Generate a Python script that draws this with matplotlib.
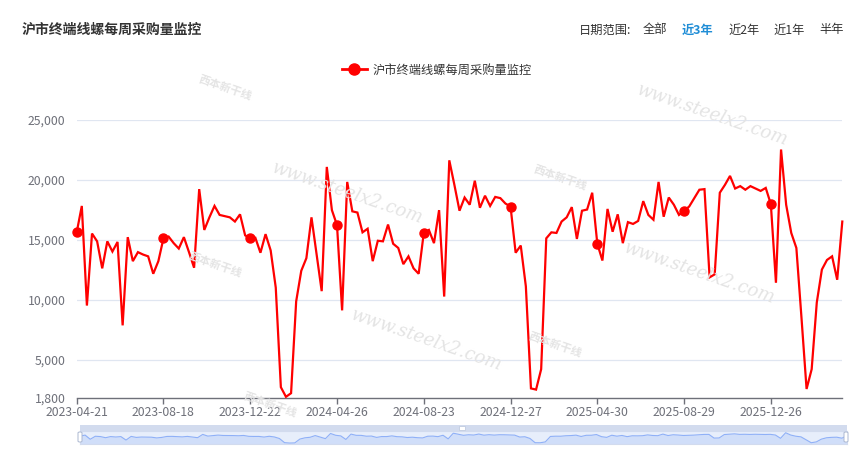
import matplotlib.pyplot as plt
import numpy as np
from matplotlib.patches import Rectangle, FancyBboxPatch
from matplotlib.lines import Line2D

plt.rcParams["font.family"] = ["Noto Sans CJK SC", "DejaVu Sans"]

title = "沪市终端线螺每周采购量监控"
series_name = "沪市终端线螺每周采购量监控"

# weekly purchase volume (151 weeks)
values = [
    15600, 17800, 9500, 15500, 14850, 12600, 14850, 14000, 14800, 7850,
    15200, 13200, 13950, 13750, 13600, 12150, 13200, 15100, 15250, 14700,
    14250, 15200, 13950, 12650, 19200, 15800, 16850, 17800, 17050, 16950,
    16850, 16500, 17100, 15350, 15100, 15150, 13900, 15450, 14100, 11000,
    2700, 1900, 2200, 9850, 12400, 13450, 16850, 13750, 10700, 21050,
    17450, 16200, 9100, 19800, 17350, 17250, 15600, 15900, 13200, 14900,
    14850, 16250, 14650, 14300, 12950, 13600, 12600, 12150, 15550, 15800,
    14700, 17450, 10250, 21600, 19550, 17400, 18500, 17900, 19900, 17650,
    18650, 17800, 18550, 18450, 18000, 17750, 13900, 14500, 11100, 2600,
    2500, 4200, 15100, 15600, 15550, 16500, 16850, 17700, 15050, 17400,
    17500, 18900, 14650, 13250, 17550, 15650, 17100, 14700, 16450, 16300,
    16550, 18200, 17050, 16650, 19800, 16900, 18500, 17900, 17050, 17400,
    17750, 18450, 19150, 19200, 11850, 12100, 18900, 19550, 20300, 19250,
    19450, 19150, 19450, 19250, 19050, 19300, 17950, 11400, 22500, 17900,
    15550, 14300, 8500, 2550, 4200, 9750, 12500, 13300, 13600, 11650,
    16500,
]
tick_labels = ["2023-04-21", "2023-08-18", "2023-12-22", "2024-04-26", "2024-08-23",
               "2024-12-27", "2025-04-30", "2025-08-29", "2025-12-26"]
y_ticks = [1800, 5000, 10000, 15000, 20000, 25000]
range_options = ["全部", "近3年", "近2年", "近1年", "半年"]

W, H = 856, 459
fig = plt.figure(figsize=(W / 100, H / 100), dpi=100)

def px(x0, y0, x1, y1):
    return [x0 / W, 1 - y1 / H, (x1 - x0) / W, (y1 - y0) / H]

axis_grey = "#6e7079"
red = "#ff0000"
step = 17
x = np.arange(len(values))

# faint watermarks (behind everything)
wm = "#e4e4e4"
for (wx, wy) in [(348, 193), (427, 340), (713, 115), (700, 273)]:
    fig.text(wx / W, 1 - wy / H, "www.steelx2.com", fontsize=13, color=wm, rotation=-19,
             ha="center", va="center", family="DejaVu Serif", style="italic", zorder=0)
for (wx, wy) in [(225, 88), (215, 265), (560, 178), (555, 345), (270, 405)]:
    fig.text(wx / W, 1 - wy / H, "西本新干线", fontsize=8, color=wm, rotation=-19,
             ha="center", va="center", fontweight="bold", zorder=0)

ax = fig.add_axes(px(76.7, 119.5, 842.3, 398))
ax.patch.set_alpha(0)
ax.plot(x, values, color=red, lw=1.6, marker="o", markevery=step, ms=6.5, zorder=3,
        solid_joinstyle="miter", clip_on=False)
ax.set_xlim(0, len(values) - 1)
ax.set_ylim(1800, 25000)
ax.set_yticks(y_ticks)
ax.set_yticklabels([f"{v:,}" for v in y_ticks])
ax.set_xticks(np.arange(len(tick_labels)) * step)
ax.set_xticklabels(tick_labels)
for v in y_ticks[1:]:
    ax.axhline(v, color="#e0e6f1", lw=0.9, zorder=1)
for s in ["top", "right", "left"]:
    ax.spines[s].set_visible(False)
ax.spines["bottom"].set_color(axis_grey)
ax.spines["bottom"].set_linewidth(1)
ax.tick_params(axis="y", length=0, pad=8, labelsize=8.8, labelcolor=axis_grey)
ax.tick_params(axis="x", length=4, width=1, color=axis_grey, pad=2, labelsize=8.8,
               labelcolor=axis_grey)

# title and range selector
fig.text(22 / W, 1 - 30 / H, title, fontsize=10, fontweight="bold", color="#333333",
         ha="left", va="center")
fig.text(579 / W, 1 - 30 / H, "日期范围:", fontsize=8.8, color="#333333", ha="left", va="center")
for lx, lab in zip([643, 682, 728, 773, 819], range_options):
    active = lab == "近3年"
    fig.text(lx / W, 1 - 30 / H, lab, fontsize=8.8, ha="left", va="center",
             color="#1f8dd6" if active else "#333333",
             fontweight="bold" if active else "normal")

# legend
handle = Line2D([], [], color=red, lw=2, marker="o", ms=8)
fig.legend([handle], [series_name], loc="center", bbox_to_anchor=(437 / W, 1 - 70 / H),
           frameon=False, fontsize=8.8, handlelength=2.0, handletextpad=0.5,
           labelcolor="#333333")

# data zoom slider
sl = fig.add_axes(px(80, 431, 847, 444))
sl.set_xlim(0, len(values) - 1)
sl.set_ylim(0, 26000)
sl.fill_between(x, values, 0, color="#8fb0f7", alpha=0.25, lw=0)
sl.plot(x, values, color="#8fb0f7", lw=0.8)
sl.set_facecolor("#e7eefb")
sl.set_xticks([])
sl.set_yticks([])
for s in sl.spines.values():
    s.set_color("#d2dbee")
top = fig.add_axes(px(80, 425, 847, 431))
top.set_facecolor("#d2dbee")
top.set_xticks([])
top.set_yticks([])
for s in top.spines.values():
    s.set_visible(False)
fig.patches.append(Rectangle((459 / W, 1 - 430 / H), 6 / W, 4 / H, transform=fig.transFigure,
                             facecolor="white", edgecolor="#c0cbe0", lw=0.6))
for hx in [80, 846]:
    fig.patches.append(FancyBboxPatch((hx / W - 2 / W, 1 - 442 / H), 4 / W, 10 / H,
                                      boxstyle="round,pad=0,rounding_size=0.002",
                                      transform=fig.transFigure, facecolor="white",
                                      edgecolor="#acb8d1", lw=0.7))

fig.savefig("out.png", dpi=100)
